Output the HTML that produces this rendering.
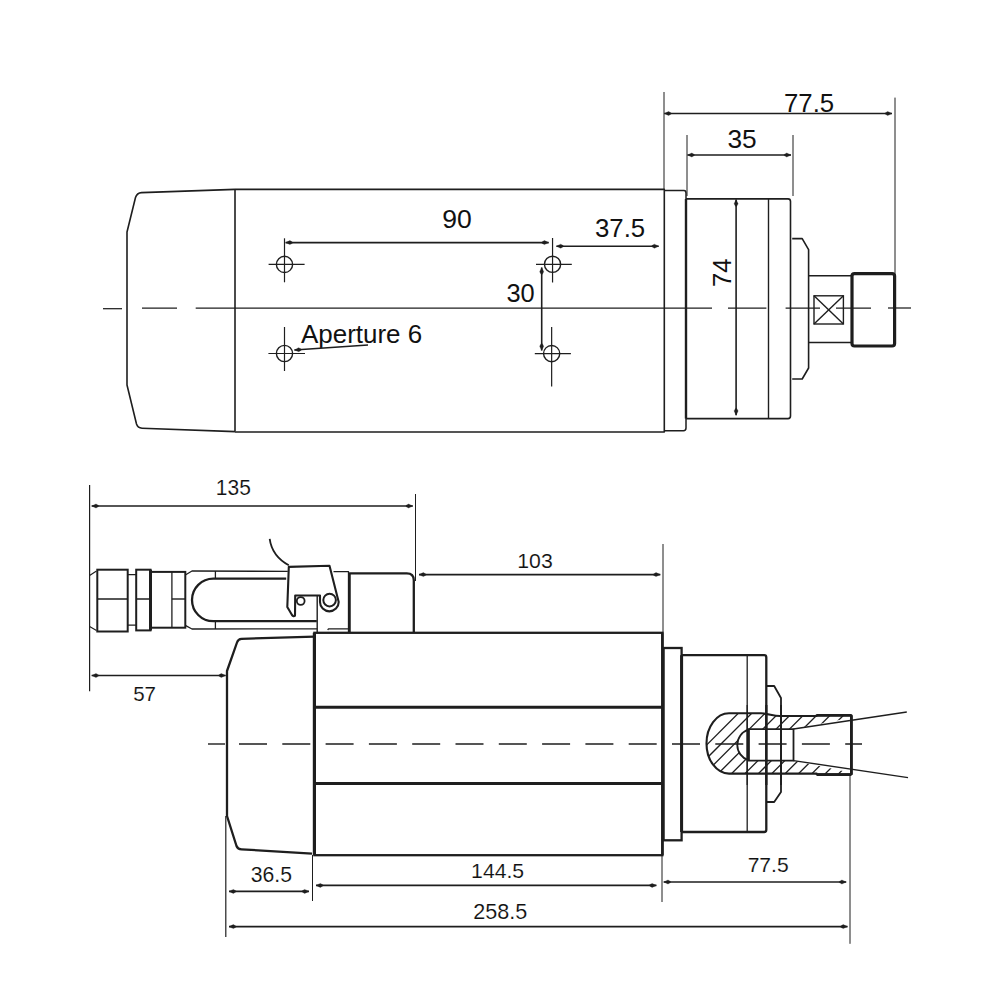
<!DOCTYPE html>
<html><head><meta charset="utf-8"><style>
html,body{margin:0;padding:0;background:#fff;width:1000px;height:1000px;overflow:hidden}
svg{display:block}
text{font-family:"Liberation Sans",sans-serif}
</style></head><body>
<svg width="1000" height="1000" viewBox="0 0 1000 1000">
<rect width="1000" height="1000" fill="#fff"/>
<path d="M235,189.4 L141.5,192.6 Q137,192.9 135.5,197.5 L127,232 L127,385 L136.5,424 Q137.8,428 142,428.2 L235,431.6" fill="none" stroke="#1e1e1e" stroke-width="1.6" stroke-linejoin="round" />
<path d="M235,189.4 L235,431.6" fill="none" stroke="#1e1e1e" stroke-width="1.6" stroke-linejoin="round" />
<path d="M235,189.4 L664.3,189.4 L664.3,432 L235,432" fill="none" stroke="#1e1e1e" stroke-width="1.6" stroke-linejoin="round" />
<path d="M664.3,190.4 L684,190.4 Q686,190.4 686,193 L686,428 Q686,430.7 683.5,430.7 L664.3,430.7" fill="none" stroke="#1e1e1e" stroke-width="1.5" stroke-linejoin="round" />
<line x1="686" y1="199" x2="686" y2="418.6" stroke="#1e1e1e" stroke-width="2.4" />
<path d="M686,198.9 L788,198.9 Q790.5,198.9 790.5,201.5 L790.5,416 Q790.5,418.6 788,418.6 L686,418.6" fill="none" stroke="#1e1e1e" stroke-width="1.6" stroke-linejoin="round" />
<line x1="768.5" y1="198.9" x2="768.5" y2="418.6" stroke="#1e1e1e" stroke-width="1.4" />
<path d="M792.2,238.6 L802.2,238.6 L808.6,249.6 L808.6,368 L802.2,379 L792.2,379" fill="none" stroke="#1e1e1e" stroke-width="1.6" stroke-linejoin="round" />
<line x1="808.6" y1="275.7" x2="852" y2="275.7" stroke="#1e1e1e" stroke-width="1.5" />
<line x1="808.6" y1="342.5" x2="852" y2="342.5" stroke="#1e1e1e" stroke-width="1.5" />
<rect x="852" y="273.6" width="42.6" height="72.4" rx="2.5" fill="#fff" stroke="#1e1e1e" stroke-width="3.2"/>
<rect x="814" y="295.8" width="29.4" height="28.2" fill="none" stroke="#1e1e1e" stroke-width="1.4"/>
<line x1="814" y1="295.8" x2="843.4" y2="324" stroke="#1e1e1e" stroke-width="1.4" />
<line x1="843.4" y1="295.8" x2="814" y2="324" stroke="#1e1e1e" stroke-width="1.4" />
<line x1="103" y1="308.7" x2="122" y2="308.7" stroke="#1e1e1e" stroke-width="1.25" />
<line x1="142" y1="308" x2="177" y2="308" stroke="#1e1e1e" stroke-width="1.25" />
<line x1="195.7" y1="308" x2="712" y2="308" stroke="#1e1e1e" stroke-width="1.25" />
<line x1="728" y1="308" x2="766.4" y2="308" stroke="#1e1e1e" stroke-width="1.25" />
<line x1="785.6" y1="308" x2="820" y2="308" stroke="#1e1e1e" stroke-width="1.25" />
<line x1="836" y1="308" x2="871" y2="308" stroke="#1e1e1e" stroke-width="1.25" />
<line x1="888" y1="308" x2="911" y2="308" stroke="#1e1e1e" stroke-width="1.25" />
<circle cx="284.5" cy="264.4" r="8.1" fill="none" stroke="#1e1e1e" stroke-width="1.4"/>
<line x1="268.6" y1="264.4" x2="304.6" y2="264.4" stroke="#1e1e1e" stroke-width="1.2" />
<line x1="284.5" y1="238.3" x2="284.5" y2="282.3" stroke="#1e1e1e" stroke-width="1.2" />
<circle cx="284.5" cy="353.5" r="8.1" fill="none" stroke="#1e1e1e" stroke-width="1.4"/>
<line x1="268.4" y1="353.5" x2="305" y2="353.5" stroke="#1e1e1e" stroke-width="1.2" />
<line x1="284.5" y1="327" x2="284.5" y2="371" stroke="#1e1e1e" stroke-width="1.2" />
<circle cx="552.55" cy="264.3" r="8.1" fill="none" stroke="#1e1e1e" stroke-width="1.4"/>
<line x1="536" y1="264.3" x2="571.8" y2="264.3" stroke="#1e1e1e" stroke-width="1.2" />
<line x1="552.55" y1="238" x2="552.55" y2="282.5" stroke="#1e1e1e" stroke-width="1.2" />
<circle cx="551.65" cy="353.6" r="8.1" fill="none" stroke="#1e1e1e" stroke-width="1.4"/>
<line x1="534.8" y1="353.6" x2="570.9" y2="353.6" stroke="#1e1e1e" stroke-width="1.2" />
<line x1="551.65" y1="327" x2="551.65" y2="386.5" stroke="#1e1e1e" stroke-width="1.2" />
<line x1="285.6" y1="242.6" x2="548.7" y2="242.6" stroke="#1e1e1e" stroke-width="1.6" />
<path d="M285.60,242.60 L289.90,240.60 L292.40,242.00 L292.40,243.20 L289.90,244.60 Z" fill="#1e1e1e" stroke="#1e1e1e" stroke-width="0.3" stroke-linejoin="round"/>
<path d="M548.70,242.60 L544.40,244.60 L541.90,243.20 L541.90,242.00 L544.40,240.60 Z" fill="#1e1e1e" stroke="#1e1e1e" stroke-width="0.3" stroke-linejoin="round"/>
<text transform="translate(442.17,227.50) scale(1.0163,1)" x="0" y="0" font-size="26.14" fill="#111" stroke="#fff" stroke-width="0">90</text>
<line x1="556.4" y1="246.2" x2="658.7" y2="246.2" stroke="#1e1e1e" stroke-width="1.6" />
<path d="M556.40,246.20 L560.70,244.20 L563.20,245.60 L563.20,246.80 L560.70,248.20 Z" fill="#1e1e1e" stroke="#1e1e1e" stroke-width="0.3" stroke-linejoin="round"/>
<path d="M658.70,246.20 L654.40,248.20 L651.90,246.80 L651.90,245.60 L654.40,244.20 Z" fill="#1e1e1e" stroke="#1e1e1e" stroke-width="0.3" stroke-linejoin="round"/>
<text transform="translate(594.97,237.00) scale(1.0304,1)" x="0" y="0" font-size="25.05" fill="#111" stroke="#fff" stroke-width="0">37.5</text>
<line x1="541.7" y1="267.5" x2="541.7" y2="350.5" stroke="#1e1e1e" stroke-width="1.6" />
<path d="M541.70,267.50 L543.70,271.80 L542.30,274.30 L541.10,274.30 L539.70,271.80 Z" fill="#1e1e1e" stroke="#1e1e1e" stroke-width="0.3" stroke-linejoin="round"/>
<path d="M541.70,350.50 L539.70,346.20 L541.10,343.70 L542.30,343.70 L543.70,346.20 Z" fill="#1e1e1e" stroke="#1e1e1e" stroke-width="0.3" stroke-linejoin="round"/>
<text transform="translate(506.48,302.30) scale(1.0144,1)" x="0" y="0" font-size="25.08" fill="#111" stroke="#fff" stroke-width="0">30</text>
<text transform="translate(301.00,343.00) scale(1.0050,1)" x="0" y="0" font-size="25.84" fill="#111" stroke="#fff" stroke-width="0">Aperture 6</text>
<line x1="368" y1="345" x2="294.4" y2="350" stroke="#1e1e1e" stroke-width="1.3" />
<path d="M294.40,350.00 L298.55,347.71 L301.14,348.94 L301.23,350.14 L298.83,351.70 Z" fill="#1e1e1e" stroke="#1e1e1e" stroke-width="0.3" stroke-linejoin="round"/>
<line x1="664" y1="92" x2="664" y2="189.4" stroke="#1e1e1e" stroke-width="1.0" />
<line x1="895" y1="97.6" x2="895" y2="273.6" stroke="#1e1e1e" stroke-width="1.0" />
<line x1="664.3" y1="113.5" x2="892" y2="113.5" stroke="#1e1e1e" stroke-width="1.6" />
<path d="M664.30,113.50 L668.60,111.50 L671.10,112.90 L671.10,114.10 L668.60,115.50 Z" fill="#1e1e1e" stroke="#1e1e1e" stroke-width="0.3" stroke-linejoin="round"/>
<path d="M892.00,113.50 L887.70,115.50 L885.20,114.10 L885.20,112.90 L887.70,111.50 Z" fill="#1e1e1e" stroke="#1e1e1e" stroke-width="0.3" stroke-linejoin="round"/>
<text transform="translate(784.01,112.00) scale(0.9942,1)" x="0" y="0" font-size="25.94" fill="#111" stroke="#fff" stroke-width="0">77.5</text>
<line x1="687" y1="135" x2="687" y2="196" stroke="#1e1e1e" stroke-width="1.0" />
<line x1="793" y1="135" x2="793" y2="196" stroke="#1e1e1e" stroke-width="1.0" />
<line x1="687.5" y1="155" x2="791" y2="155" stroke="#1e1e1e" stroke-width="1.6" />
<path d="M687.50,155.00 L691.80,153.00 L694.30,154.40 L694.30,155.60 L691.80,157.00 Z" fill="#1e1e1e" stroke="#1e1e1e" stroke-width="0.3" stroke-linejoin="round"/>
<path d="M791.00,155.00 L786.70,157.00 L784.20,155.60 L784.20,154.40 L786.70,153.00 Z" fill="#1e1e1e" stroke="#1e1e1e" stroke-width="0.3" stroke-linejoin="round"/>
<text transform="translate(727.45,147.60) scale(1.0227,1)" x="0" y="0" font-size="25.73" fill="#111" stroke="#fff" stroke-width="0">35</text>
<line x1="736.1" y1="199.5" x2="736.1" y2="415.2" stroke="#1e1e1e" stroke-width="1.6" />
<path d="M736.10,199.50 L738.10,203.80 L736.70,206.30 L735.50,206.30 L734.10,203.80 Z" fill="#1e1e1e" stroke="#1e1e1e" stroke-width="0.3" stroke-linejoin="round"/>
<path d="M736.10,415.20 L734.10,410.90 L735.50,408.40 L736.70,408.40 L738.10,410.90 Z" fill="#1e1e1e" stroke="#1e1e1e" stroke-width="0.3" stroke-linejoin="round"/>
<text transform="translate(731.00,286.88) rotate(-90) scale(0.9668,1)" x="0" y="0" font-size="26.51" fill="#111">74</text>
<line x1="89.6" y1="485" x2="89.6" y2="691.2" stroke="#1e1e1e" stroke-width="1.2" />
<line x1="91.7" y1="506" x2="412.8" y2="506" stroke="#1e1e1e" stroke-width="1.6" />
<path d="M91.70,506.00 L96.00,504.00 L98.50,505.40 L98.50,506.60 L96.00,508.00 Z" fill="#1e1e1e" stroke="#1e1e1e" stroke-width="0.3" stroke-linejoin="round"/>
<path d="M412.80,506.00 L408.50,508.00 L406.00,506.60 L406.00,505.40 L408.50,504.00 Z" fill="#1e1e1e" stroke="#1e1e1e" stroke-width="0.3" stroke-linejoin="round"/>
<text transform="translate(215.82,494.50) scale(0.9891,1)" x="0" y="0" font-size="21.20" fill="#111" stroke="#fff" stroke-width="0.12">135</text>
<line x1="415.5" y1="494" x2="415.5" y2="581" stroke="#1e1e1e" stroke-width="1.0" />
<line x1="419" y1="574.6" x2="660.3" y2="574.6" stroke="#1e1e1e" stroke-width="1.6" />
<path d="M419.00,574.60 L423.30,572.60 L425.80,574.00 L425.80,575.20 L423.30,576.60 Z" fill="#1e1e1e" stroke="#1e1e1e" stroke-width="0.3" stroke-linejoin="round"/>
<path d="M660.30,574.60 L656.00,576.60 L653.50,575.20 L653.50,574.00 L656.00,572.60 Z" fill="#1e1e1e" stroke="#1e1e1e" stroke-width="0.3" stroke-linejoin="round"/>
<text transform="translate(517.30,568.00) scale(1.0055,1)" x="0" y="0" font-size="21.12" fill="#111" stroke="#fff" stroke-width="0.12">103</text>
<line x1="663" y1="544" x2="663" y2="633" stroke="#1e1e1e" stroke-width="1.0" />
<line x1="91.7" y1="675.5" x2="225.6" y2="675.5" stroke="#1e1e1e" stroke-width="1.6" />
<path d="M91.70,675.50 L96.00,673.50 L98.50,674.90 L98.50,676.10 L96.00,677.50 Z" fill="#1e1e1e" stroke="#1e1e1e" stroke-width="0.3" stroke-linejoin="round"/>
<path d="M225.60,675.50 L221.30,677.50 L218.80,676.10 L218.80,674.90 L221.30,673.50 Z" fill="#1e1e1e" stroke="#1e1e1e" stroke-width="0.3" stroke-linejoin="round"/>
<text transform="translate(133.18,700.50) scale(1.0014,1)" x="0" y="0" font-size="20.46" fill="#111" stroke="#fff" stroke-width="0.12">57</text>
<path d="M89.6,575.4 L96.5,571 M89.6,626.5 L96.5,630.4" fill="none" stroke="#1e1e1e" stroke-width="1.2" stroke-linejoin="round" />
<rect x="97.3" y="569.7" width="30.4" height="61.8" fill="none" stroke="#1e1e1e" stroke-width="2.0"/>
<line x1="97.3" y1="599" x2="127.7" y2="599" stroke="#1e1e1e" stroke-width="1.5" />
<path d="M127.7,574.6 L136.2,574.6 M127.7,625.1 L136.2,625.1" fill="none" stroke="#1e1e1e" stroke-width="1.4" stroke-linejoin="round" />
<rect x="136.2" y="569.7" width="14.3" height="60.7" fill="none" stroke="#1e1e1e" stroke-width="2.0"/>
<line x1="150.5" y1="569.7" x2="150.5" y2="630.4" stroke="#1e1e1e" stroke-width="3" />
<line x1="136.2" y1="599" x2="150.5" y2="599" stroke="#1e1e1e" stroke-width="1.5" />
<rect x="151" y="571.9" width="34.3" height="55.8" fill="none" stroke="#1e1e1e" stroke-width="2.0"/>
<line x1="171.9" y1="571.9" x2="171.9" y2="627.7" stroke="#1e1e1e" stroke-width="1.3" />
<line x1="171.9" y1="599" x2="185.3" y2="599" stroke="#1e1e1e" stroke-width="1.4" />
<path d="M185.3,575 L192,571 L287.8,571.4" fill="none" stroke="#1e1e1e" stroke-width="1.3" stroke-linejoin="round" />
<path d="M185.3,625.4 L192,629 L317.2,628.8" fill="none" stroke="#1e1e1e" stroke-width="1.3" stroke-linejoin="round" />
<path d="M333.5,571.6 L348.5,571.6 L348.5,632" fill="none" stroke="#1e1e1e" stroke-width="1.3" stroke-linejoin="round" />
<path d="M327.7,630 L328.5,628.8 L348.5,628.8" fill="none" stroke="#1e1e1e" stroke-width="1.3" stroke-linejoin="round" />
<line x1="215.4" y1="571" x2="215.4" y2="579" stroke="#1e1e1e" stroke-width="1.3" />
<line x1="215.4" y1="621" x2="215.4" y2="629" stroke="#1e1e1e" stroke-width="1.3" />
<path d="M286.2,578.6 L213.3,578.6 A21.3,21.3 0 0 0 213.3,621.2 L316.8,621.2" fill="none" stroke="#1e1e1e" stroke-width="2.3" stroke-linejoin="round" />
<line x1="317.2" y1="595.5" x2="317.2" y2="632.5" stroke="#1e1e1e" stroke-width="1.4" />
<path d="M288.8,566.9 L329.5,565.8 L338.7,602 A9.35,9.35 0 0 1 320,602 L320,595.5 L295.2,595.5 L295,615.8 Q293.5,617 292,615 L287.3,607 L288.8,566.9 Z" fill="none" stroke="#1e1e1e" stroke-width="2.1" stroke-linejoin="round" />
<circle cx="329.6" cy="600.1" r="6.3" fill="none" stroke="#1e1e1e" stroke-width="2.0"/>
<circle cx="300.7" cy="601" r="3.9" fill="none" stroke="#1e1e1e" stroke-width="1.8"/>
<path d="M269.7,538.8 Q272,556 288.8,565.2" fill="none" stroke="#1e1e1e" stroke-width="1.8" stroke-linejoin="round" />
<path d="M349.6,632 L349.6,573.3 L406.8,573.3 Q413.8,573.3 413.8,580.3 L413.8,632" fill="none" stroke="#1e1e1e" stroke-width="2.3" stroke-linejoin="round" />
<path d="M314.4,636.6 L241.5,638.8 Q238.2,639 237,642.5 L227,671 L227,816 L236.5,846 Q237.8,849.2 241.5,849.3 L312,853.6" fill="none" stroke="#1e1e1e" stroke-width="2.3" stroke-linejoin="round" />
<rect x="314.4" y="632.8" width="348" height="222.4" fill="none" stroke="#1e1e1e" stroke-width="2.3"/>
<line x1="314.4" y1="632.8" x2="314.4" y2="855.2" stroke="#1e1e1e" stroke-width="3.2" />
<line x1="314.4" y1="707.3" x2="662.4" y2="707.3" stroke="#1e1e1e" stroke-width="3.0" />
<line x1="314.4" y1="783.4" x2="662.4" y2="783.4" stroke="#1e1e1e" stroke-width="3.0" />
<line x1="662.4" y1="632.8" x2="662.4" y2="855.2" stroke="#1e1e1e" stroke-width="2.6" />
<rect x="663.6" y="648" width="18" height="192.3" fill="none" stroke="#1e1e1e" stroke-width="2.3"/>
<line x1="681.6" y1="655.2" x2="681.6" y2="832" stroke="#1e1e1e" stroke-width="3.0" />
<path d="M681.6,655.2 L764.2,655.2 Q766.3,655.2 766.3,657.4 L766.3,829.8 Q766.3,832 764.2,832 L681.6,832" fill="none" stroke="#1e1e1e" stroke-width="2.3" stroke-linejoin="round" />
<line x1="747.2" y1="655.2" x2="747.2" y2="832" stroke="#1e1e1e" stroke-width="1.3" />
<path d="M766.3,686 L774.2,686 L781,698 L781,792 L774.2,802 L766.3,802" fill="none" stroke="#1e1e1e" stroke-width="1.8" stroke-linejoin="round" />
<defs><clipPath id="cl"><path d="M729,713.3 L761,713.3 C768,713.3 773,716 780,716 L816.6,716 L816.6,715.3 L851.4,715.3 L851.4,774.3 L816.6,774.3 L816.6,773.6 L729,773.6 C716.6,773.6 706.5,760 706.5,743.4 C706.5,726.8 716.6,713.3 729,713.3 Z M748.4,729.2 L748.4,729.6 A16.1,16.1 0 0 0 748.4,760.2 L748.4,760.6 L793.5,760.6 L851.4,772.7 L851.4,717.5 L793.5,729.2 Z" clip-rule="evenodd"/></clipPath></defs>
<g clip-path="url(#cl)">
<line x1="651.5999999999999" y1="800" x2="751.5999999999999" y2="700" stroke="#1e1e1e" stroke-width="1.3" />
<line x1="665.0" y1="800" x2="765.0" y2="700" stroke="#1e1e1e" stroke-width="1.3" />
<line x1="678.4000000000001" y1="800" x2="778.4000000000001" y2="700" stroke="#1e1e1e" stroke-width="1.3" />
<line x1="691.8" y1="800" x2="791.8" y2="700" stroke="#1e1e1e" stroke-width="1.3" />
<line x1="705.2" y1="800" x2="805.2" y2="700" stroke="#1e1e1e" stroke-width="1.3" />
<line x1="718.5999999999999" y1="800" x2="818.5999999999999" y2="700" stroke="#1e1e1e" stroke-width="1.3" />
<line x1="732.0" y1="800" x2="832.0" y2="700" stroke="#1e1e1e" stroke-width="1.3" />
<line x1="745.4000000000001" y1="800" x2="845.4000000000001" y2="700" stroke="#1e1e1e" stroke-width="1.3" />
<line x1="758.8" y1="800" x2="858.8" y2="700" stroke="#1e1e1e" stroke-width="1.3" />
<line x1="772.2" y1="800" x2="872.2" y2="700" stroke="#1e1e1e" stroke-width="1.3" />
<line x1="785.5999999999999" y1="800" x2="885.5999999999999" y2="700" stroke="#1e1e1e" stroke-width="1.3" />
<line x1="799.0" y1="800" x2="899.0" y2="700" stroke="#1e1e1e" stroke-width="1.3" />
<line x1="812.4000000000001" y1="800" x2="912.4000000000001" y2="700" stroke="#1e1e1e" stroke-width="1.3" />
<line x1="825.8" y1="800" x2="925.8" y2="700" stroke="#1e1e1e" stroke-width="1.3" />
<line x1="839.2" y1="800" x2="939.2" y2="700" stroke="#1e1e1e" stroke-width="1.3" />
<line x1="852.5999999999999" y1="800" x2="952.5999999999999" y2="700" stroke="#1e1e1e" stroke-width="1.3" />
<line x1="866.0" y1="800" x2="966.0" y2="700" stroke="#1e1e1e" stroke-width="1.3" />
<line x1="879.4000000000001" y1="800" x2="979.4000000000001" y2="700" stroke="#1e1e1e" stroke-width="1.3" />
<line x1="892.8" y1="800" x2="992.8" y2="700" stroke="#1e1e1e" stroke-width="1.3" />
<line x1="906.2" y1="800" x2="1006.2" y2="700" stroke="#1e1e1e" stroke-width="1.3" />
<line x1="919.5999999999999" y1="800" x2="1019.5999999999999" y2="700" stroke="#1e1e1e" stroke-width="1.3" />
<line x1="933.0" y1="800" x2="1033.0" y2="700" stroke="#1e1e1e" stroke-width="1.3" />
<line x1="946.4000000000001" y1="800" x2="1046.4" y2="700" stroke="#1e1e1e" stroke-width="1.3" />
<line x1="959.8" y1="800" x2="1059.8" y2="700" stroke="#1e1e1e" stroke-width="1.3" />
<line x1="973.2" y1="800" x2="1073.2" y2="700" stroke="#1e1e1e" stroke-width="1.3" />
<line x1="986.5999999999999" y1="800" x2="1086.6" y2="700" stroke="#1e1e1e" stroke-width="1.3" />
</g>
<path d="M729,713.3 L761,713.3 C768,713.3 773,716 780,716 L816.6,716 L816.6,715.3 L851.4,715.3 L851.4,774.3 L816.6,774.3 L816.6,773.6 L729,773.6 C716.6,773.6 706.5,760 706.5,743.4 C706.5,726.8 716.6,713.3 729,713.3 Z" fill="none" stroke="#1e1e1e" stroke-width="2.1" stroke-linejoin="round" />
<path d="M748.4,729.2 L793.5,729.2 L793.5,760.6 L748.4,760.6 Z" fill="none" stroke="#1e1e1e" stroke-width="1.8"/>
<line x1="748.4" y1="729.2" x2="748.4" y2="760.6" stroke="#1e1e1e" stroke-width="2.8" />
<path d="M748.4,729.6 A16.1,16.1 0 0 0 748.4,760.2" fill="none" stroke="#1e1e1e" stroke-width="1.8" stroke-linejoin="round" />
<line x1="793.5" y1="729" x2="906.8" y2="712" stroke="#1e1e1e" stroke-width="1.4" />
<line x1="793.5" y1="760.6" x2="908" y2="777.6" stroke="#1e1e1e" stroke-width="1.4" />
<line x1="851.4" y1="715.3" x2="851.4" y2="774.7" stroke="#1e1e1e" stroke-width="2.8" />
<line x1="816.6" y1="715.3" x2="851.4" y2="715.3" stroke="#1e1e1e" stroke-width="2.8" />
<line x1="816.6" y1="774.7" x2="851.4" y2="774.7" stroke="#1e1e1e" stroke-width="2.8" />
<line x1="747.2" y1="705" x2="747.2" y2="785" stroke="#1e1e1e" stroke-width="1.3" />
<line x1="766.3" y1="705" x2="766.3" y2="785" stroke="#1e1e1e" stroke-width="2.3" />
<line x1="781" y1="705" x2="781" y2="785" stroke="#1e1e1e" stroke-width="1.8" />
<line x1="208" y1="744" x2="225" y2="744" stroke="#1e1e1e" stroke-width="1.4" />
<line x1="239" y1="744" x2="862" y2="744" stroke="#1e1e1e" stroke-width="1.3" stroke-dasharray="28 15.3"/>
<line x1="225.8" y1="816" x2="225.8" y2="937" stroke="#1e1e1e" stroke-width="1.2" />
<line x1="312.5" y1="855" x2="312.5" y2="901" stroke="#1e1e1e" stroke-width="1.0" />
<line x1="662" y1="855" x2="662" y2="902" stroke="#1e1e1e" stroke-width="1.0" />
<line x1="850" y1="775" x2="850" y2="943.8" stroke="#1e1e1e" stroke-width="1.0" />
<line x1="229" y1="891.4" x2="309" y2="891.4" stroke="#1e1e1e" stroke-width="1.6" />
<path d="M229.00,891.40 L233.30,889.40 L235.80,890.80 L235.80,892.00 L233.30,893.40 Z" fill="#1e1e1e" stroke="#1e1e1e" stroke-width="0.3" stroke-linejoin="round"/>
<path d="M309.00,891.40 L304.70,893.40 L302.20,892.00 L302.20,890.80 L304.70,889.40 Z" fill="#1e1e1e" stroke="#1e1e1e" stroke-width="0.3" stroke-linejoin="round"/>
<text transform="translate(250.75,882.40) scale(0.9942,1)" x="0" y="0" font-size="21.31" fill="#111" stroke="#fff" stroke-width="0.12">36.5</text>
<line x1="316" y1="885.4" x2="656.4" y2="885.4" stroke="#1e1e1e" stroke-width="1.6" />
<path d="M316.00,885.40 L320.30,883.40 L322.80,884.80 L322.80,886.00 L320.30,887.40 Z" fill="#1e1e1e" stroke="#1e1e1e" stroke-width="0.3" stroke-linejoin="round"/>
<path d="M656.40,885.40 L652.10,887.40 L649.60,886.00 L649.60,884.80 L652.10,883.40 Z" fill="#1e1e1e" stroke="#1e1e1e" stroke-width="0.3" stroke-linejoin="round"/>
<text transform="translate(471.11,877.60) scale(1.0073,1)" x="0" y="0" font-size="21.02" fill="#111" stroke="#fff" stroke-width="0.12">144.5</text>
<line x1="663.7" y1="882" x2="846.2" y2="882" stroke="#1e1e1e" stroke-width="1.6" />
<path d="M663.70,882.00 L668.00,880.00 L670.50,881.40 L670.50,882.60 L668.00,884.00 Z" fill="#1e1e1e" stroke="#1e1e1e" stroke-width="0.3" stroke-linejoin="round"/>
<path d="M846.20,882.00 L841.90,884.00 L839.40,882.60 L839.40,881.40 L841.90,880.00 Z" fill="#1e1e1e" stroke="#1e1e1e" stroke-width="0.3" stroke-linejoin="round"/>
<text transform="translate(747.65,872.30) scale(1.0085,1)" x="0" y="0" font-size="20.90" fill="#111" stroke="#fff" stroke-width="0.12">77.5</text>
<line x1="229" y1="926.6" x2="847.5" y2="926.6" stroke="#1e1e1e" stroke-width="1.6" />
<path d="M229.00,926.60 L233.30,924.60 L235.80,926.00 L235.80,927.20 L233.30,928.60 Z" fill="#1e1e1e" stroke="#1e1e1e" stroke-width="0.3" stroke-linejoin="round"/>
<path d="M847.50,926.60 L843.20,928.60 L840.70,927.20 L840.70,926.00 L843.20,924.60 Z" fill="#1e1e1e" stroke="#1e1e1e" stroke-width="0.3" stroke-linejoin="round"/>
<text transform="translate(473.32,918.70) scale(1.0034,1)" x="0" y="0" font-size="21.50" fill="#111" stroke="#fff" stroke-width="0.12">258.5</text>
</svg></body></html>
